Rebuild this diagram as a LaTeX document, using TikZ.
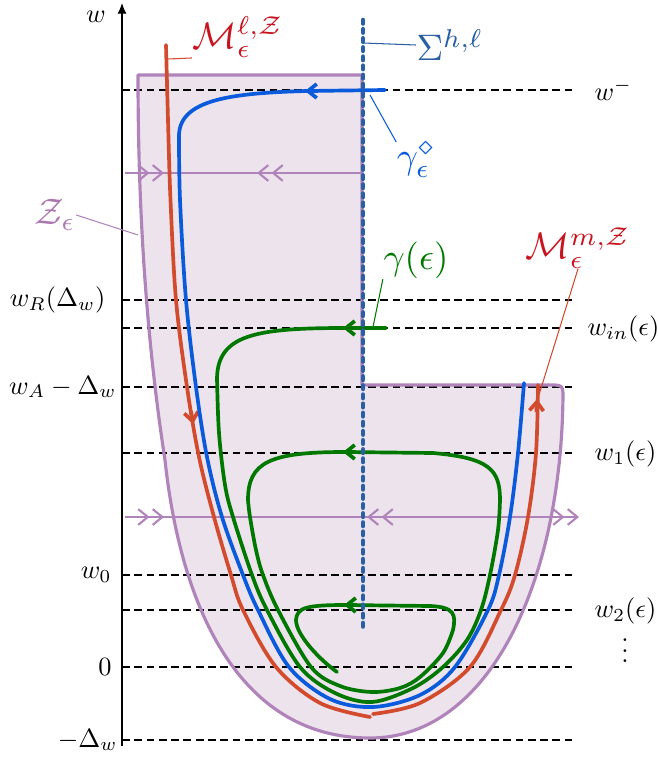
\documentclass[tikz,border=0pt]{standalone}
\usepackage{amsmath}
\usetikzlibrary{arrows.meta}
\definecolor{purpline}{RGB}{176,132,186}
\definecolor{purpfill}{RGB}{237,227,237}
\definecolor{purplabel}{RGB}{170,120,175}
\definecolor{redc}{RGB}{210,75,45}
\definecolor{redlabel}{RGB}{200,20,30}
\definecolor{bluec}{RGB}{10,90,220}
\definecolor{sigmac}{RGB}{42,95,165}
\definecolor{greenc}{RGB}{0,120,0}
\begin{document}
\begin{tikzpicture}[x=0.02cm,y=-0.02cm,
  curve/.style={line width=2.1pt,line cap=round,line join=round},
  tipbarb/.style={line width=2.1pt,-{Straight Barb[length=5pt,width=8pt]}},
  flowline/.style={purpline,line width=1.2pt},
  flowtip/.style={purpline,line width=1.2pt,-{Straight Barb[length=5.5pt,width=9pt,sep=1.2pt]Straight Barb[length=5.5pt,width=9pt]}},
  level/.style={black,line width=0.7pt,dash pattern=on 4.4pt off 2.6pt},
  lbl/.style={scale=1.5,inner sep=0pt},
  biglbl/.style={scale=2.1,inner sep=0pt},
  leader/.style={line width=0.6pt}]
\useasboundingbox (0,0) rectangle (658,757);

% region Z
\fill[purpfill] (138,75) -- (362,75) -- (362,385) -- (555,385)
  .. controls (561,385) and (563,387) .. (563,393)
  .. controls (562,580) and (490,738) .. (370,738)
  .. controls (235,738) and (180,600) .. (165,460)
  .. controls (145,330) and (138,200) .. cycle;

% levels
\foreach \yy in {90,300,328,387,453,575,610,667,740}
  \draw[level] (122,\yy) -- (575,\yy);

% flow arrows
\draw[flowline] (125,173) -- (362,173);
\draw[flowtip] (130,173) -- (164,173);
\draw[flowtip] (300,173) -- (257,173);
\draw[flowline] (125,517) -- (578,517);
\draw[flowtip] (130,517) -- (164,517);
\draw[flowtip] (400,517) -- (367,517);
\draw[flowtip] (540,517) -- (579,517);

% region border
\draw[purpline,line width=1.8pt,line join=round] (138,75) -- (362,75) -- (362,385) -- (555,385)
  .. controls (561,385) and (563,387) .. (563,393)
  .. controls (562,580) and (490,738) .. (370,738)
  .. controls (235,738) and (180,600) .. (165,460)
  .. controls (145,330) and (138,200) .. cycle;

% red curves
\draw[redc,curve] plot[smooth,tension=0.55] coordinates {(166,45) (168,120) (170.5,200) (176,300) (187,387) (199,457) (214,517) (231,575) (243,610) (276,667) (320,703) (370,717)};
\draw[redc,curve] plot[smooth,tension=0.55] coordinates {(373,714) (420,703) (470,667) (501,610) (515,575) (528,517) (536,453) (538,385)};
\draw[redc,tipbarb] (191,411) -- (193,424);
\draw[redc,tipbarb] (536.4,412) -- (537.1,399);

% blue curve
\draw[bluec,curve] (385,90) -- (307,91) .. controls (230,93) and (180,100) .. (179,135)
  -- plot[smooth,tension=0.55] coordinates {(179,135) (180,200) (186,300) (196,387) (207,457) (222,517) (243,575) (258,610) (289,667) (330,699) (373,707) (420,695) (455,667) (488,610) (499,575) (510,517) (518,453) (524,383)};
\draw[bluec,tipbarb] (318,91) -- (305,91);

% green curve
\draw[greenc,curve] (386,328) -- (345,328) .. controls (255,328) and (218,335) .. (217,378)
  -- plot[smooth,tension=0.55] coordinates {(217,378) (219,433) (225,485) (233,517) (252,575) (267,610) (300,667) (335,693) (372,702) (413,688) (443,667) (467,640) (481,610) (490,575) (498,530) (500,500)}
  .. controls (500,470) and (490,458) .. (433,453) -- (345,452)
  .. controls (270,452) and (248,462) .. (248,500)
  -- plot[smooth,tension=0.55] coordinates {(248,500) (250,517) (256,550) (263,575) (278,610) (311,667) (340,686) (372,692) (400,688) (420,677) (443,653) (453,630)}
  .. controls (456,615) and (455,607) .. (430,606) -- (345,605)
  .. controls (305,605) and (297,608) .. (296,620)
  .. controls (296,635) and (320,660) .. (337,672);
\draw[greenc,tipbarb] (356,328) -- (343,328);
\draw[greenc,tipbarb] (356,452) -- (343,452);
\draw[greenc,tipbarb] (357,605) -- (344,605);

% Sigma
\draw[sigmac,line width=2.6pt,line cap=round,dash pattern=on 2pt off 3.2pt] (363,20) -- (363,628);

% axis
\draw[black,line width=0.6pt,-{Latex[length=6pt,width=5pt]}] (122,746) -- (122,3);
\node[lbl] (lw) at (96,17) {$w$};

% level labels
\node[lbl,anchor=west] (lwm) at (594,90) {$w^-$};
\node[lbl,anchor=east] (lwr) at (106,300) {$w_R(\Delta_w)$};
\node[lbl,anchor=west] (lwin) at (587,329) {$w_{in}(\epsilon)$};
\node[lbl,anchor=east] (lwa) at (117,387) {$w_A-\Delta_w$};
\node[lbl,anchor=west] (lw1) at (594,454) {$w_1(\epsilon)$};
\node[lbl,anchor=east] (lw0) at (112,575) {$w_0$};
\node[lbl,anchor=west] (lw2) at (594,611) {$w_2(\epsilon)$};
\node[lbl] (ldots) at (625,643) {$\vdots$};
\node[lbl,anchor=east] (lzero) at (112,667) {$0$};
\node[lbl,anchor=east] (lmd) at (118,740) {$-\Delta_w$};

% annotation labels
\node[biglbl,text=redlabel] (mell) at (238,37) {$\mathcal{M}_\epsilon^{\ell,\mathcal{Z}}$};
\coordinate (mellp) at (168,59);
\draw[redc,leader] (mellp) -- (mell.south west);
\node[biglbl,text=sigmac] (sig) at (450,45) {$\Sigma^{h,\ell}$};
\coordinate (sigp) at (363,43);
\draw[sigmac,leader] (sigp) -- (sig.west);
\node[biglbl,text=bluec] (gd) at (416,160) {$\gamma_\epsilon^\diamond$};
\coordinate (gdp) at (370,95);
\draw[bluec,leader] (gdp) -- (gd.north west);
\node[biglbl,text=purplabel] (zl) at (55,215) {$\mathcal{Z}_\epsilon$};
\coordinate (zlp) at (138,235);
\draw[purpline,leader] (zl.east) -- (zlp);
\node[biglbl,text=greenc] (ge) at (416,260) {$\gamma(\epsilon)$};
\coordinate (gep) at (373,327);
\draw[greenc,leader] (ge.south west) -- (gep);
\node[biglbl,text=redlabel] (mm) at (578,248) {$\mathcal{M}_\epsilon^{m,\mathcal{Z}}$};
\coordinate (mmp) at (538,398);
\draw[redc,leader] (mm.south) -- (mmp);
\end{tikzpicture}
\end{document}
